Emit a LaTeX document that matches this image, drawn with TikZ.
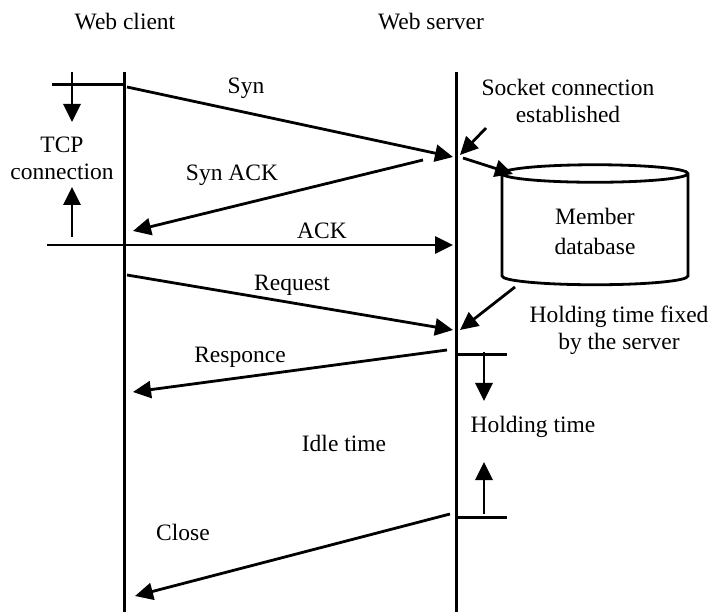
\documentclass[tikz,border=0pt]{standalone}
\usepackage{fontspec}
\setmainfont{Liberation Serif}
\usetikzlibrary{arrows.meta,positioning,shapes.geometric,calc}

\begin{document}
\begin{tikzpicture}[x=1pt,y=-1pt,
    lbl/.style={font=\fontsize{23.5}{27}\selectfont,align=center,inner sep=0pt},
    life/.style={line width=3pt},
    arr/.style={-{Triangle[length=18pt,width=17pt]},line width=2.8pt},
    db/.style={cylinder,shape border rotate=90,draw,line width=2.8pt,aspect=0.2,
      minimum width=186pt,minimum height=120pt,align=center,
      font=\fontsize{23.5}{30}\selectfont}
  ]
    \useasboundingbox (0,0) rectangle (710,612);
    % titles and lifelines
    \node[lbl] (client) at (125,22) {Web client};
    \node[lbl] (server) at (431,22) {Web server};
    \coordinate (ctop) at (124,72);
    \coordinate (cbot) at (124,612);
    \coordinate (stop) at (456,72);
    \coordinate (sbot) at (456,612);
    \draw[life] (ctop) -- (cbot);
    \draw[life] (stop) -- (sbot);
    % TCP connection
    \node[lbl] (tcp) at (62,158) {TCP\\connection};
    \coordinate (tcpA) at (52,85);
    \coordinate (tcpB) at (72,72);
    \coordinate (tcpC) at (72,237);
    \draw[life] (tcpA) -- (tcpA -| ctop);
    \draw[arr] (tcpB) -- (72,122);
    \draw[arr] (tcpC) -- (72,187);
    % handshake
    \coordinate (syn0) at (127,87);
    \coordinate (syn1) at (453,157);
    \draw[arr] (syn0) -- (syn1);
    \node[lbl] (syn) at (246,88) {Syn};
    \coordinate (sack0) at (423,160);
    \coordinate (sack1) at (133,231);
    \draw[arr] (sack0) -- (sack1);
    \node[lbl] (sack) at (232,175) {Syn ACK};
    \coordinate (ack0) at (47,245);
    \coordinate (ack1) at (453,245);
    \draw[arr] (ack0) -- (ack1);
    \node[lbl] (ack) at (322,231) {ACK};
    % database side
    \node[lbl] (socket) at (568,101) {Socket connection\\established};
    \coordinate (sock0) at (486,128);
    \coordinate (sock1) at (460,155);
    \draw[arr] (sock0) -- (sock1);
    \node[db] (member) at (595,231) {Member\\database};
    \coordinate (sock2) at (463,158);
    \draw[arr] (sock2) -- (513,174);
    \coordinate (fix0) at (515,287);
    \coordinate (fix1) at (460,330);
    \draw[arr] (fix0) -- (fix1);
    \node[lbl] (fixed) at (619,330) {Holding time fixed\\by the server};
    % request / response
    \coordinate (req0) at (127,275);
    \coordinate (req1) at (453,330);
    \draw[arr] (req0) -- (req1);
    \node[lbl] (req) at (292,285) {Request};
    \coordinate (res0) at (447,350);
    \coordinate (res1) at (133,392);
    \draw[arr] (res0) -- (res1);
    \node[lbl] (res) at (240,357) {Responce};
    % holding time
    \coordinate (hold0) at (456,355);
    \coordinate (hold1) at (456,517);
    \draw[life] (hold0) -- ++(51,0);
    \draw[life] (hold1) -- ++(51,0);
    \node[lbl] (hold) at (533,427) {Holding time};
    \draw[arr] (484,352) -- (484,401);
    \draw[arr] (484,514) -- (484,462);
    \node[lbl] (idle) at (344,443) {Idle time};
    % close
    \coordinate (cl0) at (450,514);
    \coordinate (cl1) at (135,596);
    \draw[arr] (cl0) -- (cl1);
    \node[lbl] (close) at (183,532) {Close};
  \end{tikzpicture}
\end{document}
